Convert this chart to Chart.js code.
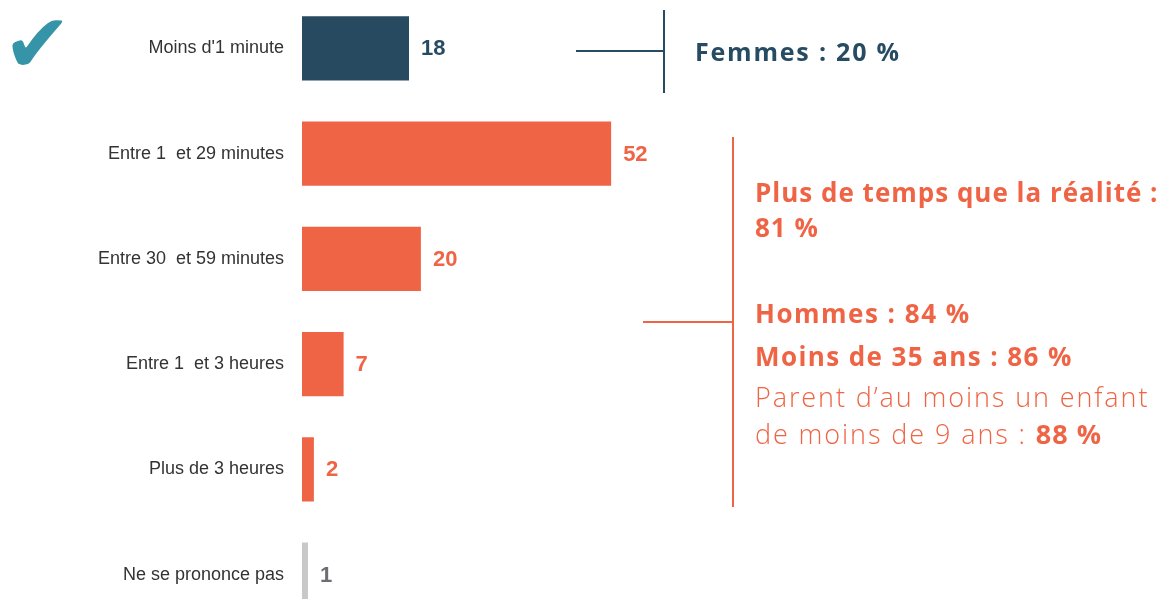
<!DOCTYPE html>
<html>
<head>
<meta charset="utf-8">
<script src="https://cdn.jsdelivr.net/npm/chart.js@4"></script>
<style>
  html, body { margin: 0; padding: 0; background: #fff; overflow: hidden; }
  body { width: 1164px; height: 599px; position: relative; }
  #chart { position: absolute; left: 0; top: -33px; }
  .ln { position: absolute; }
  .txt { position: absolute; font-family: "Open Sans", Lato, sans-serif; white-space: nowrap; }
  .check { position: absolute; left: 3px; top: 3px; font-family: "DejaVu Sans", sans-serif; font-size: 82px; color: #3594a8; line-height: 1; }
</style>
</head>
<body>
<canvas id="chart" width="1164" height="689"></canvas>

<div class="check">✔</div>

<!-- annotation for women -->
<div class="ln" style="left:576px; top:50px; width:88px; height:2px; background:#264b63;"></div>
<div class="ln" style="left:663px; top:10px; width:2px; height:83px; background:#264b63;"></div>
<div class="txt" style="left:695px; top:34px; font-size:25px; font-weight:bold; letter-spacing:1.8px; color:#264b63;">Femmes : 20 %</div>

<!-- annotation for overestimation -->
<div class="ln" style="left:643px; top:321px; width:90px; height:2px; background:#f06446;"></div>
<div class="ln" style="left:732px; top:137px; width:2px; height:370px; background:#f06446;"></div>
<div class="txt" style="left:755px; top:175px; font-size:26px; font-weight:bold; letter-spacing:1px; color:#f06446; line-height:35px;">Plus de temps que la réalité :<br>81 %</div>
<div class="txt" style="left:755px; top:295px; font-size:26px; font-weight:bold; letter-spacing:1.5px; color:#f06446;">Hommes : 84 %</div>
<div class="txt" style="left:755px; top:338px; font-size:26px; font-weight:bold; letter-spacing:1.4px; color:#f06446;">Moins de 35 ans : 86 %</div>
<div class="txt" style="left:755px; top:378px; font-size:27px; font-weight:300; letter-spacing:1.9px; color:#f06446; line-height:37px;">Parent d’au moins un enfant<br>de moins de 9 ans : <b style="font-weight:bold; letter-spacing:1px;">88 %</b></div>

<script>
// categories and values
const categories = [
    'Moins d\'1 minute',
    'Entre 1  et 29 minutes',
    'Entre 30  et 59 minutes',
    'Entre 1  et 3 heures',
    'Plus de 3 heures',
    'Ne se prononce pas'
];
const values = [18, 52, 20, 7, 2, 1];

const barColors = ['#284a61', '#f06446', '#f06446', '#f06446', '#f06446', '#c8c8c8'];
const labelColors = ['#264b63', '#f06446', '#f06446', '#f06446', '#f06446', '#6b6e72'];

// draw the value next to each bar
const valueLabels = {
    id: 'valueLabels',
    afterDatasetsDraw(chart) {
        const ctx = chart.ctx;
        const meta = chart.getDatasetMeta(0);
        ctx.save();
        ctx.font = 'bold 22px "Liberation Sans", Arial, sans-serif';
        ctx.textBaseline = 'middle';
        meta.data.forEach((bar, i) => {
            ctx.fillStyle = labelColors[i];
            ctx.fillText(values[i], bar.x + 12, bar.y + 1);
        });
        ctx.restore();
    }
};

const ctx = document.getElementById('chart').getContext('2d');
new Chart(ctx, {
    type: 'bar',
    data: {
        labels: categories,
        datasets: [{
            data: values,
            backgroundColor: barColors,
            categoryPercentage: 1,
            barPercentage: 0.61
        }]
    },
    options: {
        indexAxis: 'y',
        responsive: false,
        animation: false,
        layout: { padding: 0 },
        plugins: {
            legend: { display: false },
            tooltip: { enabled: false }
        },
        scales: {
            x: { display: false, min: 0, max: 145 },
            y: {
                grid: { display: false, drawTicks: false },
                border: { display: false },
                ticks: {
                    color: '#333333',
                    font: { family: '"Liberation Sans", Arial, sans-serif', size: 18 },
                    padding: 18
                },
                afterFit(scale) { scale.width = 302; }
            }
        }
    },
    plugins: [valueLabels]
});
</script>
</body>
</html>
